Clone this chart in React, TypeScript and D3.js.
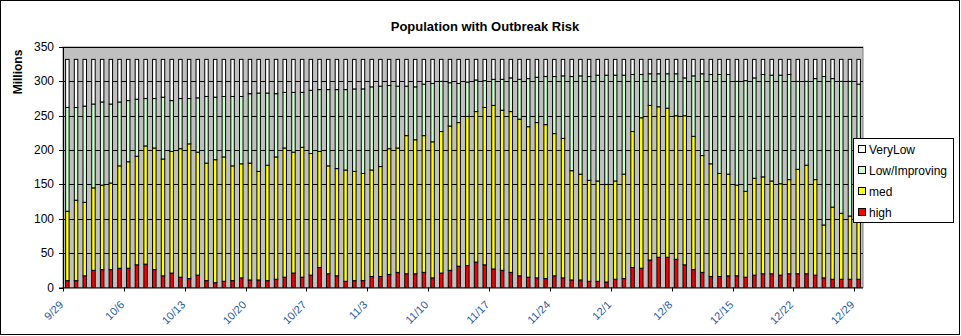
import React from "react";
import * as d3 from "d3";

const high = [10,10,17,25,26,26,28,28,33,34,26,17,21,15,13,18,10,7,9,10,14,11,11,10,12,15,21,15,18,29,20,17,9,10,10,16,16,19,22,20,20,22,14,21,25,31,32,37,33,27,25,22,17,15,14,13,17,14,11,11,9,9,8,12,13,29,28,40,44,44,41,33,26,22,16,16,17,17,15,18,20,20,18,20,20,20,18,14,12,12,12,12];
const med = [101,117,107,120,123,126,149,155,158,172,177,170,177,187,196,179,171,179,181,167,166,170,158,168,178,188,176,189,177,169,157,156,162,159,156,155,160,183,181,201,195,199,198,206,210,209,217,219,229,238,233,234,228,219,226,224,207,203,159,154,147,146,142,143,152,198,219,225,219,217,209,217,194,170,164,150,148,132,125,141,141,135,133,137,152,158,139,77,105,96,92,88];
const low = [151,135,140,122,121,115,93,89,83,69,72,90,74,73,66,79,97,91,88,101,98,101,114,105,92,81,87,80,92,90,111,115,117,120,123,121,117,92,90,72,77,75,85,73,63,57,50,46,39,38,45,49,58,70,66,70,83,91,137,143,151,154,159,154,144,83,63,46,48,50,61,55,88,119,130,144,145,151,161,146,149,154,158,153,128,122,147,216,187,192,196,196];
const veryLow = [70,70,68,65,62,65,62,60,58,57,57,55,60,57,57,56,54,55,54,54,54,50,49,49,50,48,48,48,45,44,44,44,44,43,43,40,39,38,39,39,40,36,35,32,34,35,33,30,31,29,29,27,29,28,26,25,25,24,25,24,25,23,23,23,23,22,22,21,21,21,21,27,24,21,22,22,22,32,31,27,22,23,23,22,32,32,28,25,28,32,32,36];

const seriesNames = ["high", "med", "Low/Improving", "VeryLow"];
const seriesColors = ["#FF0000", "#FFFF00", "#CCFFCC", "#FFFFFF"];
const yTicks = [0, 50, 100, 150, 200, 250, 300, 350];
const xTickLabels = ["9/29","10/6","10/13","10/20","10/27","11/3","11/10","11/17","11/24","12/1","12/8","12/15","12/22","12/29"];

const startDate = new Date(2008, 8, 29);
const categories: string[] = d3.timeDay
  .range(startDate, d3.timeDay.offset(startDate, high.length))
  .map((d) => `${d.getMonth() + 1}/${d.getDate()}`);

const W = 961, H = 336;
const L = 63, R = 863, T = 47, B = 287.5;

export default function App() {
  const x = d3.scaleBand<string>().domain(categories).range([L, R]).paddingInner(0.6).paddingOuter(0.3);
  const y = d3.scaleLinear().domain([0, 350]).range([B, T]);
  const rows = categories.map((c, i) => ({ c, high: high[i], med: med[i], low: low[i], veryLow: veryLow[i] }));
  const stack = d3.stack<any>().keys(["high", "med", "low", "veryLow"])(rows);
  const step = x.step();
  const font = "'Liberation Sans', Arial, sans-serif";
  const legendItems = [
    { name: "VeryLow", color: seriesColors[3] },
    { name: "Low/Improving", color: seriesColors[2] },
    { name: "med", color: seriesColors[1] },
    { name: "high", color: seriesColors[0] },
  ];
  return (
    <svg width={W} height={H} style={{ position: "absolute", left: 0, top: 0, background: "#fff" }} fontFamily={font}>
      <rect x={0.5} y={0.5} width={W - 2} height={H - 2} fill="#fff" stroke="#000" />
      <text x={485} y={31} textAnchor="middle" fontSize={13} fontWeight="bold">Population with Outbreak Risk</text>
      <text transform={`translate(22,72) rotate(-90)`} textAnchor="middle" fontSize={12} fontWeight="bold">Millions</text>
      <rect x={L} y={T} width={R - L} height={B - T} fill="#C0C0C0" stroke="#808080" />
      {yTicks.slice(1).map((t) => (
        <line key={t} x1={L} x2={R} y1={Math.round(y(t)) + 0.5} y2={Math.round(y(t)) + 0.5} stroke="#000" />
      ))}
      {stack.map((s, si) => (
        <g key={si} fill={seriesColors[si]} stroke="#000" strokeWidth={1}>
          {s.map((d: any, i: number) => (
            <rect key={i} x={x(categories[i])!} width={x.bandwidth()} y={y(d[1])} height={y(d[0]) - y(d[1])} />
          ))}
        </g>
      ))}
      <line x1={L + 0.5} x2={L + 0.5} y1={T} y2={B + 1} stroke="#000" />
      <line x1={L - 4} x2={R} y1={B + 0.5} y2={B + 0.5} stroke="#000" />
      {yTicks.map((t) => (
        <g key={t}>
          <line x1={L - 4} x2={L} y1={Math.round(y(t)) + 0.5} y2={Math.round(y(t)) + 0.5} stroke="#000" />
          <text x={54} y={y(t) + 4} textAnchor="end" fontSize={12}>{t}</text>
        </g>
      ))}
      {xTickLabels.map((lab) => {
        const tx = Math.round(x(lab)! - (step - x.bandwidth()) / 2) + 0.5;
        return (
          <g key={lab}>
            <line x1={tx} x2={tx} y1={B} y2={B + 4} stroke="#000" />
            <text transform={`translate(${tx + 0.5},${B + 18}) rotate(-45)`} textAnchor="end" fontSize={11} fill="#1F5AA6">{lab}</text>
          </g>
        );
      })}
      <rect x={853.5} y={138.5} width={100} height={84} fill="#fff" stroke="#000" />
      {legendItems.map((it, i) => (
        <g key={it.name}>
          <rect x={858.5} y={145.5 + i * 21} width={7} height={7} fill={it.color} stroke="#000" />
          <text x={869} y={153.5 + i * 21} fontSize={12}>{it.name}</text>
        </g>
      ))}
    </svg>
  );
}
